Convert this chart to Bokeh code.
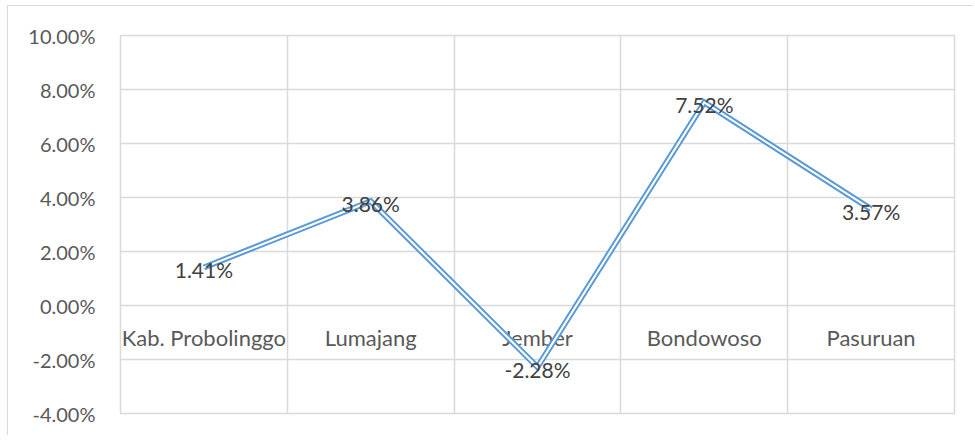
from bokeh.plotting import figure
from bokeh.models import Range1d, FixedTicker, NumeralTickFormatter, ColumnDataSource
from bokeh.core.properties import value
from bokeh.embed import file_html
from bokeh.resources import INLINE

categories = ["Kab. Probolinggo", "Lumajang", "Jember", "Bondowoso", "Pasuruan"]
growth = [0.0141, 0.0386, -0.0228, 0.0752, 0.0357]
y_ticks = [-0.04, -0.02, 0.0, 0.02, 0.04, 0.06, 0.08, 0.10]

idx = list(range(len(categories)))
src = ColumnDataSource(dict(
    x=idx, y=growth, cat=categories,
    zero=[0.0] * len(categories),
    lbl=[f"{v*100:.2f}%" for v in growth],
))

FONT = "Lato"
p = figure(width=966, height=430, output_backend="svg", toolbar_location=None,
           x_range=Range1d(-0.5, len(categories) - 0.5),
           y_range=Range1d(y_ticks[0], y_ticks[-1]),
           min_border_left=112, min_border_right=20, min_border_top=29, min_border_bottom=23)
p.styles = {"border-top": "1px solid #d9d9d9", "border-left": "1px solid #d9d9d9",
            "margin-top": "5px", "margin-left": "7px"}
p.outline_line_color = "#d9d9d9"
p.outline_line_width = 1.5
p.xaxis.visible = False
p.xgrid.ticker = FixedTicker(ticks=[i - 0.5 for i in range(len(categories) + 1)])
p.xgrid.grid_line_color = "#d9d9d9"
p.ygrid.grid_line_color = "#d9d9d9"
p.xgrid.grid_line_width = 1.5
p.ygrid.grid_line_width = 1.5
p.yaxis.ticker = FixedTicker(ticks=y_ticks)
p.yaxis.formatter = NumeralTickFormatter(format="0.00%")
p.yaxis.axis_line_color = None
p.yaxis.major_tick_line_color = None
p.yaxis.minor_tick_line_color = None
p.yaxis.major_label_text_font = FONT
p.yaxis.major_label_text_font_size = "20px"
p.yaxis.major_label_text_color = "#595959"
p.yaxis.major_label_standoff = 19

# category labels drawn at the 0% line (Excel-style axis crossing)
p.text(x="x", y="zero", text="cat", source=src, text_font=value(FONT),
       text_font_size="22px", text_color="#595959", text_align="center",
       text_baseline="middle", y_offset=32)

# compound (double) line
p.line(x="x", y="y", source=src, line_color="#5B9BD5", line_width=6, line_join="miter")
p.line(x="x", y="y", source=src, line_color="white", line_width=2, line_join="miter")

p.text(x="x", y="y", text="lbl", source=src, text_font=value(FONT),
       text_font_size="21px", text_color="#404040", text_align="center",
       text_baseline="middle", y_offset=2)

open("out.html", "w").write(file_html(p, INLINE))
